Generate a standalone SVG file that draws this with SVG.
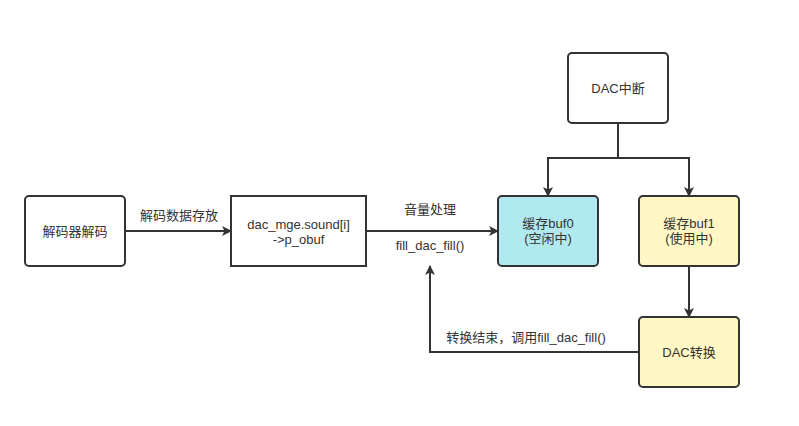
<svg xmlns="http://www.w3.org/2000/svg" width="799" height="426" viewBox="0 0 799 426">
<defs>
<marker id="arr" viewBox="0 0 10 10" refX="9" refY="5" markerWidth="10" markerHeight="10" markerUnits="userSpaceOnUse" orient="auto">
<path d="M0,0 L10,5 L0,10 L2.5,5 Z" fill="#333"/>
</marker>
<style>
.box{stroke:#333;stroke-width:2;fill:#fff}
.cyan{fill:#b1e9f1}
.yel{fill:#fff8c4}
.t{font-family:"Liberation Sans","Noto Sans CJK SC",sans-serif;font-size:13px;fill:#333;text-anchor:middle}
.c{fill:none;stroke:#333;stroke-width:2}
</style>
</defs>
<rect width="799" height="426" fill="#fff"/>
<g id="connectors">
<path class="c" d="M125,231 H231" marker-end="url(#arr)"/>
<path class="c" d="M366,231 H498" marker-end="url(#arr)"/>
<path class="c" d="M618,123 V158 H548 V196" marker-end="url(#arr)"/>
<path class="c" d="M618,158 H689 V196" marker-end="url(#arr)"/>
<path class="c" d="M689,266 V317" marker-end="url(#arr)"/>
<path class="c" d="M639,352 H430 V266" marker-end="url(#arr)"/>
<text class="t" x="179" y="220">解码数据存放</text>
<text class="t" x="430" y="214">音量处理</text>
<text class="t" x="430" y="250">fill_dac_fill()</text>
<text class="t" x="526" y="342">转换结束，调用fill_dac_fill()</text>
</g>
<g id="decode">
<rect class="box" x="25" y="196" width="100" height="70" rx="4"/>
<text class="t" x="75" y="236">解码器解码</text>
</g>
<g id="store">
<rect class="box" x="231" y="196" width="135" height="70"/>
<text class="t" x="298.5" y="229">dac_mge.sound[i]</text>
<text class="t" x="298.5" y="244">-&gt;p_obuf</text>
</g>
<g id="buf0">
<rect class="box cyan" x="498" y="196" width="100" height="70" rx="4"/>
<text class="t" x="548" y="228">缓存buf0</text>
<text class="t" x="548" y="243">(空闲中)</text>
</g>
<g id="buf1">
<rect class="box yel" x="639" y="196" width="100" height="70" rx="4"/>
<text class="t" x="689" y="228">缓存buf1</text>
<text class="t" x="689" y="243">(使用中)</text>
</g>
<g id="dacint">
<rect class="box" x="568" y="53" width="100" height="70" rx="4"/>
<text class="t" x="618" y="93">DAC中断</text>
</g>
<g id="dacconv">
<rect class="box yel" x="639" y="317" width="100" height="70" rx="4"/>
<text class="t" x="689" y="357">DAC转换</text>
</g>
</svg>
